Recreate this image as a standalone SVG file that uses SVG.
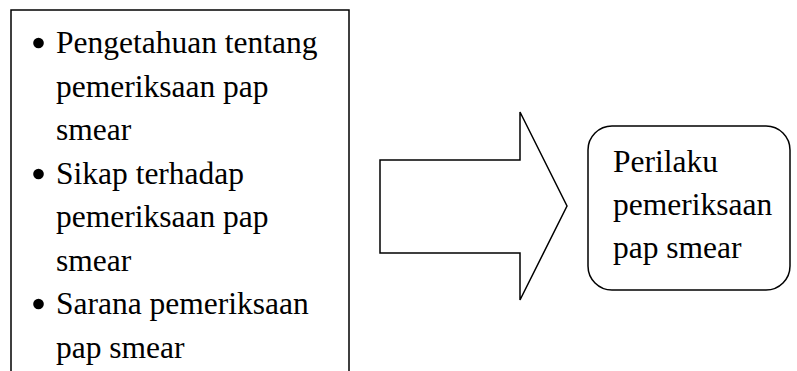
<svg xmlns="http://www.w3.org/2000/svg" width="797" height="371" viewBox="0 0 797 371">
<style>
.t{font-family:"Liberation Serif","Times New Roman",serif;font-size:31.5px;fill:#000}
.s{fill:none;stroke:#000;stroke-width:1.5}
</style>
<rect width="797" height="371" fill="#fff"/>
<g id="factors">
<path class="s" d="M11,380 V10 H349 V380"/>
<circle cx="38.5" cy="43" r="5.3"/>
<circle cx="38.5" cy="174" r="5.3"/>
<circle cx="38.5" cy="304" r="5.3"/>
<text class="t" x="56" y="53">Pengetahuan tentang</text>
<text class="t" x="56" y="96.5">pemeriksaan pap</text>
<text class="t" x="56" y="140">smear</text>
<text class="t" x="56" y="183.5">Sikap terhadap</text>
<text class="t" x="56" y="227">pemeriksaan pap</text>
<text class="t" x="56" y="270.5">smear</text>
<text class="t" x="56" y="314">Sarana pemeriksaan</text>
<text class="t" x="56" y="357.5">pap smear</text>
</g>
<g id="connectors">
<path class="s" d="M380,160 H520 V112 L567,206 L520,300 V253 H380 Z"/>
</g>
<g id="behavior">
<rect class="s" x="588" y="126" width="202" height="164" rx="24"/>
<text class="t" x="613" y="172">Perilaku</text>
<text class="t" x="613" y="215">pemeriksaan</text>
<text class="t" x="613" y="258">pap smear</text>
</g>
</svg>
